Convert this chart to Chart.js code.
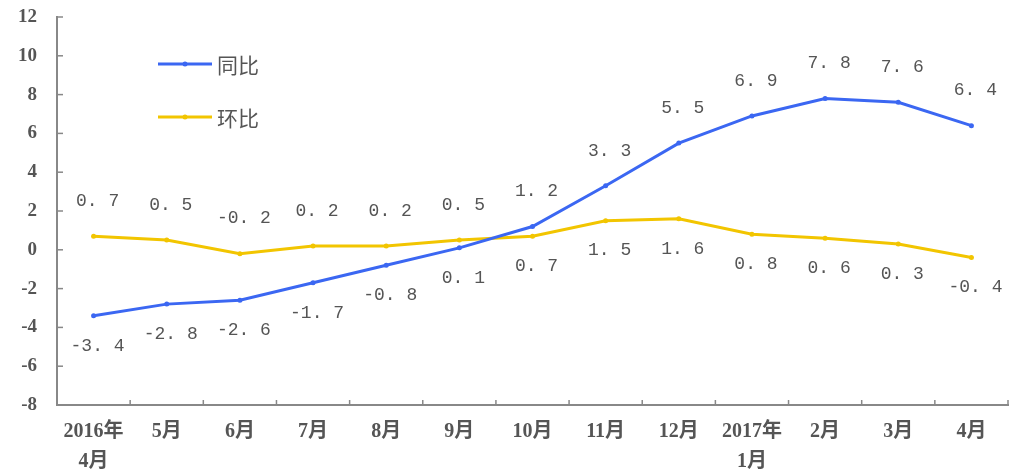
<!DOCTYPE html>
<html><head><meta charset="utf-8">
<script src="https://cdn.jsdelivr.net/npm/chart.js@4"></script>
<style>html,body{margin:0;padding:0;background:#fff}#wrap{width:1015px;height:472px}</style>
</head><body><div id="wrap"><canvas id="c" width="1015" height="472"></canvas></div>
<script>
const categories = [["2016年","4月"],"5月","6月","7月","8月","9月","10月","11月","12月",["2017年","1月"],"2月","3月","4月"];
const yoy = [-3.4,-2.8,-2.6,-1.7,-0.8,0.1,1.2,3.3,5.5,6.9,7.8,7.6,6.4];
const mom = [0.7,0.5,-0.2,0.2,0.2,0.5,0.7,1.5,1.6,0.8,0.6,0.3,-0.4];
const yoyLabelPos = ["below","below","below","below","below","below","above","above","above","above","above","above","above"];
const momLabelPos = ["above","above","above","above","above","above","below","below","below","below","below","below","below"];
const seriesNames = ["同比","环比"];
const yTicks = [12,10,8,6,4,2,0,-2,-4,-6,-8];

const FONT = "'Liberation Serif','Noto Sans CJK SC',serif";
const MONO = "'Liberation Mono','Noto Sans CJK SC',monospace";
const TXT = "#555";
const BLUE = "#3b67f2";
const YELLOW = "#f2c500";

function fmt(v){ const s = v.toFixed(1); return s.replace(".", ". "); }

const decor = {
  id:'decor',
  afterDatasetsDraw(chart){
    const ctx = chart.ctx;
    const xs = chart.scales.x, ys = chart.scales.y;
    ctx.save();
    ctx.strokeStyle = "#888"; ctx.lineWidth = 1.5;
    yTicks.forEach(v=>{
      const y = ys.getPixelForValue(v);
      ctx.beginPath(); ctx.moveTo(xs.left, y); ctx.lineTo(xs.left+6, y); ctx.stroke();
    });
    const step = xs.getPixelForValue(1)-xs.getPixelForValue(0);
    for(let i=0;i<categories.length;i++){
      const x = xs.getPixelForValue(i)+step/2;
      ctx.beginPath(); ctx.moveTo(x, ys.bottom); ctx.lineTo(x, ys.bottom-5); ctx.stroke();
    }
    ctx.font = "18px " + MONO;
    ctx.fillStyle = TXT; ctx.textAlign = "center"; ctx.textBaseline = "middle";
    const sets = [[0,yoy,yoyLabelPos],[1,mom,momLabelPos]];
    sets.forEach(([di,vals,pos])=>{
      const meta = chart.getDatasetMeta(di);
      meta.data.forEach((pt,i)=>{
        const dy = pos[i]==="above" ? -35 : 30;
        ctx.fillText(fmt(vals[i]), pt.x+4, pt.y+dy);
      });
    });
    const leg = [[BLUE,64],[YELLOW,117]];
    leg.forEach(([col,y],i)=>{
      ctx.strokeStyle = col; ctx.lineWidth = 3;
      ctx.beginPath(); ctx.moveTo(158,y); ctx.lineTo(212,y); ctx.stroke();
      ctx.fillStyle = col; ctx.beginPath(); ctx.arc(185,y,2.5,0,Math.PI*2); ctx.fill();
      ctx.fillStyle = TXT; ctx.textAlign = "left"; ctx.font = "21px 'Noto Sans CJK SC',sans-serif";
      ctx.fillText(seriesNames[i], 217, y+1);
    });
    ctx.restore();
  }
};

new Chart(document.getElementById('c'), {
  type:'line',
  data:{
    labels: categories,
    datasets:[
      {label:seriesNames[0], data:yoy, borderColor:BLUE, backgroundColor:BLUE, borderWidth:3, pointRadius:2.5, pointBorderWidth:0, tension:0},
      {label:seriesNames[1], data:mom, borderColor:YELLOW, backgroundColor:YELLOW, borderWidth:3, pointRadius:2.5, pointBorderWidth:0, tension:0}
    ]
  },
  options:{
    responsive:false, animation:false, devicePixelRatio:1,
    layout:{padding:{top:17,right:7,left:0,bottom:0}},
    plugins:{legend:{display:false}, tooltip:{enabled:false}},
    scales:{
      x:{
        offset:true,
        grid:{display:false, drawTicks:false},
        border:{display:true, color:"#888", width:2},
        ticks:{color:TXT, font:{family:FONT, size:20, weight:'bold', lineHeight:1.5}, padding:12, maxRotation:0, autoSkip:false},
        afterFit(s){ s.height = 67; s.paddingTop = 0; s.paddingBottom = 0; }
      },
      y:{
        min:-8, max:12,
        grid:{display:false, drawTicks:false},
        border:{display:true, color:"#888", width:2},
        ticks:{stepSize:2, color:TXT, font:{family:FONT, size:19, weight:'bold'}, padding:20},
        afterFit(s){ s.width = 57; s.paddingTop = 0; s.paddingBottom = 0; }
      }
    }
  },
  plugins:[decor]
});
</script></body></html>
